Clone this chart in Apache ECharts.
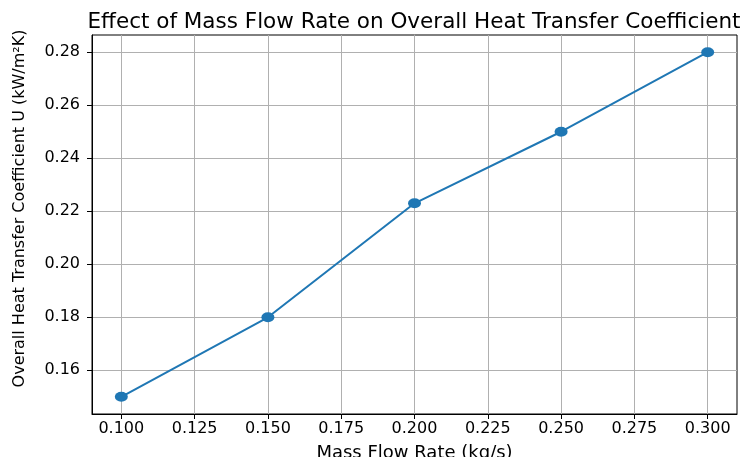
<!DOCTYPE html>
<html>
<head>
<meta charset="utf-8">
<script src="https://cdn.jsdelivr.net/npm/echarts@6/dist/echarts.min.js"></script>
<style>html,body{margin:0;padding:0;background:#fff}#c{width:746px;height:457px}</style>
</head>
<body>
<div id="c"></div>
<script>
const massFlow = [0.10, 0.15, 0.20, 0.25, 0.30];
const uValues = [0.150, 0.180, 0.223, 0.250, 0.280];
const xTicks = [0.100, 0.125, 0.150, 0.175, 0.200, 0.225, 0.250, 0.275, 0.300];
const yTicks = [0.16, 0.18, 0.20, 0.22, 0.24, 0.26, 0.28];

const font = "'DejaVu Sans', sans-serif";
const chart = echarts.init(document.getElementById('c'), null, {renderer: 'canvas'});
chart.setOption({
  animation: false,
  backgroundColor: '#fff',
  title: {
    text: 'Effect of Mass Flow Rate on Overall Heat Transfer Coefficient',
    left: 409, top: 6, textAlign: 'center',
    textStyle: {fontFamily: font, fontSize: 21.5, fontWeight: 'normal', color: '#000'}
  },
  grid: {left: 92, right: 9, top: 35, bottom: 43, show: true, borderColor: '#000', borderWidth: 1,
    backgroundColor: 'transparent', outerBoundsMode: 'none', containLabel: false},
  xAxis: {
    type: 'value', min: 0.09, max: 0.31,
    name: 'Mass Flow Rate (kg/s)', nameLocation: 'middle', nameGap: 30,
    nameTextStyle: {fontFamily: font, fontSize: 18, color: '#000'},
    axisLine: {show: true, lineStyle: {color: '#000', width: 1}},
    axisTick: {show: true, customValues: xTicks, length: 5, lineStyle: {color: '#000'}},
    axisLabel: {customValues: xTicks, fontFamily: font, fontSize: 16, color: '#000', margin: 7,
      formatter: v => v.toFixed(3)},
    splitLine: {show: true, lineStyle: {color: '#b0b0b0', width: 1}}
  },
  yAxis: {
    type: 'value', min: 0.1435, max: 0.2865,
    name: 'Overall Heat Transfer Coefficient U (kW/m²K)', nameLocation: 'middle', nameGap: 64, nameRotate: 90,
    nameTextStyle: {fontFamily: font, fontSize: 16, color: '#000', padding: [0, 0, 0, 32]},
    axisLine: {show: true, lineStyle: {color: '#000', width: 1}},
    axisTick: {show: true, customValues: yTicks, length: 5, lineStyle: {color: '#000'}},
    axisLabel: {customValues: yTicks, fontFamily: font, fontSize: 16, color: '#000', margin: 12,
      formatter: v => v.toFixed(2)},
    splitLine: {show: true, lineStyle: {color: '#b0b0b0', width: 1}}
  },
  series: [{
    type: 'line',
    data: massFlow.map((x, i) => [x, uValues[i]]),
    symbol: 'circle', symbolSize: [13, 10],
    lineStyle: {color: '#1f77b4', width: 2},
    itemStyle: {color: '#1f77b4'}
  }]
});
</script>
</body>
</html>
